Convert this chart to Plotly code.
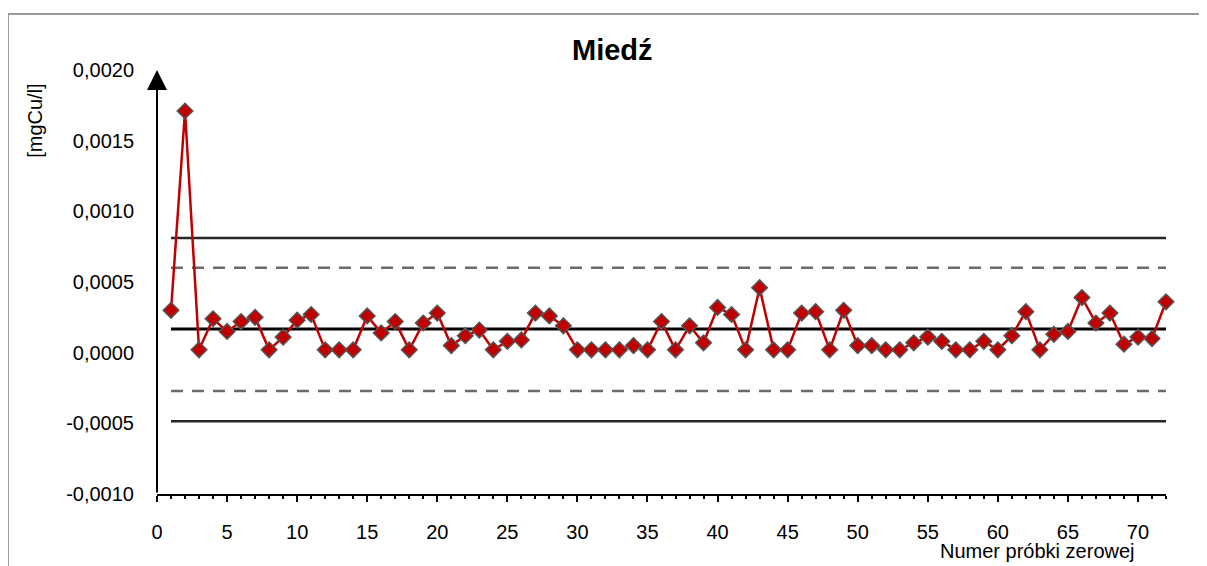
import plotly.graph_objects as go

# sample numbers 1..72 and copper results [mgCu/l]
sample_no = list(range(1, 73))
copper = [
    0.00030, 0.00171, 0.00002, 0.00024, 0.00015, 0.00022, 0.00025, 0.00002, 0.00011, 0.00023,
    0.00027, 0.00002, 0.00002, 0.00002, 0.00026, 0.00014, 0.00022, 0.00002, 0.00021, 0.00028,
    0.00005, 0.00012, 0.00016, 0.00002, 0.00008, 0.00009, 0.00028, 0.00026, 0.00019, 0.00002,
    0.00002, 0.00002, 0.00002, 0.00005, 0.00002, 0.00022, 0.00002, 0.00019, 0.00007, 0.00032,
    0.00027, 0.00002, 0.00046, 0.00002, 0.00002, 0.00028, 0.00029, 0.00002, 0.00030, 0.00005,
    0.00005, 0.00002, 0.00002, 0.00007, 0.00011, 0.00008, 0.00002, 0.00002, 0.00008, 0.00002,
    0.00012, 0.00029, 0.00002, 0.00013, 0.00015, 0.00039, 0.00021, 0.00028, 0.00006, 0.00011,
    0.00010, 0.00036,
]

# control limits
center_line = 0.000168
warning_upper = 0.000600
warning_lower = -0.000272
action_upper = 0.000812
action_lower = -0.000485

y_tickvals = [-0.0010, -0.0005, 0.0, 0.0005, 0.0010, 0.0015, 0.0020]
y_ticktext = ["-0,0010", "-0,0005", "0,0000", "0,0005", "0,0010", "0,0015", "0,0020"]

FONT = "Liberation Sans, Arial, sans-serif"

fig = go.Figure()

x_span = [1, 72]
for level, color, dash, width in [
    (action_upper, "#262626", "solid", 2.5),
    (warning_upper, "#6b6b6b", "12px,9px", 2.5),
    (center_line, "#000000", "solid", 3),
    (warning_lower, "#6b6b6b", "12px,9px", 2.5),
    (action_lower, "#262626", "solid", 2.5),
]:
    fig.add_trace(go.Scatter(
        x=x_span, y=[level, level],
        mode="lines", hoverinfo="skip",
        line=dict(color=color, width=width, dash=dash),
    ))

fig.add_trace(go.Scatter(
    x=sample_no, y=copper,
    mode="lines+markers", name="Miedź",
    line=dict(color="#c00000", width=2.5),
    marker=dict(symbol="diamond", size=12, color="#c00000",
                line=dict(color="#555555", width=1.5)),
    cliponaxis=False,
))

# y axis drawn as an arrow
fig.add_annotation(
    x=0, y=0.002, ax=0, ay=-0.001, xref="x", yref="y", axref="x", ayref="y",
    text="", showarrow=True, arrowhead=2, arrowsize=2, arrowwidth=2,
    arrowcolor="black", standoff=0,
)

fig.add_annotation(
    text="<b>Miedź</b>", x=0.451, y=1.047, xref="paper", yref="paper",
    showarrow=False, font=dict(size=29, color="black", family=FONT),
    xanchor="center", yanchor="middle",
)
fig.add_annotation(
    text="[mgCu/l]", x=-0.121, y=0.88, xref="paper", yref="paper",
    showarrow=False, textangle=-90, font=dict(size=20, color="black", family=FONT),
    xanchor="center", yanchor="middle",
)
fig.add_annotation(
    text="Numer próbki zerowej", x=0.873, y=-0.134, xref="paper", yref="paper",
    showarrow=False, font=dict(size=20, color="black", family=FONT),
    xanchor="center", yanchor="middle",
)

# outer frame
fig.add_shape(
    type="rect", xref="paper", yref="paper",
    x0=-0.1477, x1=1.2, y0=-0.4, y1=1.132,
    line=dict(color="#9a9a9a", width=2), fillcolor="rgba(0,0,0,0)",
)

fig.update_xaxes(
    range=[0, 72], dtick=5, tick0=0,
    showline=True, linecolor="black", linewidth=2,
    ticks="outside", ticklen=6, tickwidth=2, tickcolor="black",
    minor=dict(dtick=1, ticks="outside", ticklen=3, tickwidth=2, tickcolor="black"),
    showgrid=False, zeroline=False,
    ticklabelstandoff=13,
    tickfont=dict(size=20, color="black", family=FONT),
)
fig.update_yaxes(
    range=[-0.001, 0.002],
    tickvals=y_tickvals, ticktext=y_ticktext,
    showline=False, ticks="", showgrid=False, zeroline=False,
    ticklabelstandoff=22,
    tickfont=dict(size=20, color="black", family=FONT),
)

fig.update_layout(
    width=1207, height=566,
    margin=dict(l=149, r=49, t=62, b=80),
    plot_bgcolor="white", paper_bgcolor="white",
    showlegend=False,
    font=dict(family=FONT, color="black"),
)

fig.write_html("out.html")
